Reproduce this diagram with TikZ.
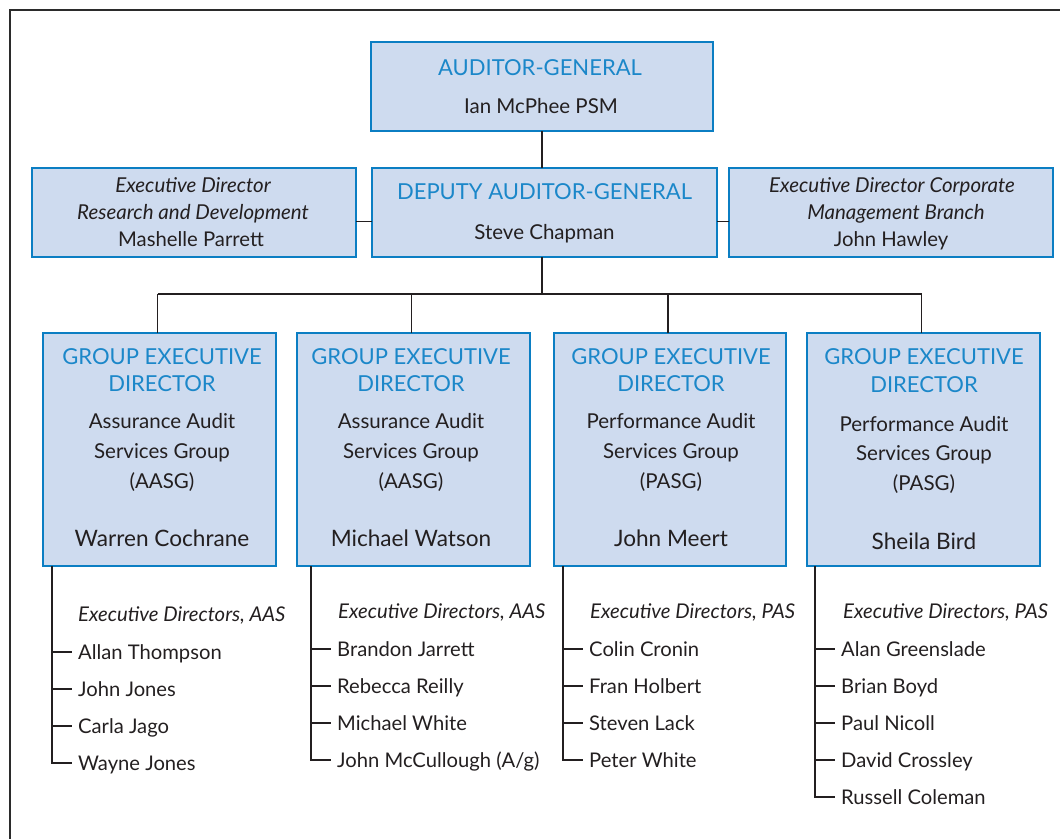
\documentclass[tikz,border=0pt]{standalone}
\usepackage{fontspec}
\setmainfont{Lato}
\usetikzlibrary{calc}
\definecolor{boxfill}{HTML}{CEDBEF}
\definecolor{boxline}{HTML}{0B7EC3}
\definecolor{titleblue}{HTML}{1B87C9}
\definecolor{ink}{HTML}{231F20}
\definecolor{framegray}{HTML}{2B2B2B}
\begin{document}
\begin{tikzpicture}[x=1pt,y=-1pt,
  box/.style={draw=boxline, fill=boxfill, line width=1.5pt, inner sep=0pt, outer sep=0pt},
  txt/.style={inner sep=0pt, text depth=0pt, text=ink},
  ttl/.style={txt, text=titleblue, font=\fontsize{22}{22}\selectfont, text height=15.8pt},
  body/.style={txt, font=\fontsize{20.5}{20.5}\selectfont, text height=14.7pt},
  nm/.style={txt, font=\fontsize{22.6}{22.6}\selectfont, text height=16.2pt},
  side/.style={txt, font=\fontsize{20.3}{20.3}\selectfont, text height=14.6pt},
  sidei/.style={txt, font=\fontsize{20.5}{20.5}\selectfont\itshape, text height=14.7pt},
  head/.style={txt, anchor=west, font=\fontsize{20.3}{20.3}\selectfont\itshape, text height=14.6pt},
  item/.style={txt, anchor=west, inner xsep=6pt, font=\fontsize{20.2}{20.2}\selectfont, text height=14.5pt},
  conn/.style={draw=ink, line width=1.1pt}
]
\clip (0,0) rectangle (1060,838);
\draw[framegray, line width=2pt] (10,900) -- (10,10) -- (1100,10);

% top boxes
\node[box, minimum width=342pt, minimum height=89pt] (ag) at (542,86.5) {};
\node[ttl] (agt) at (540,68) {AUDITOR-GENERAL};
\node[body] (agn) at (541,106) {Ian McPhee PSM};

\node[box, minimum width=345pt, minimum height=89pt] (dag) at (544.5,212.5) {};
\node[ttl] (dagt) at (544.5,192) {DEPUTY AUDITOR-GENERAL};
\node[body] (dagn) at (544.5,232) {Steve Chapman};

\node[box, minimum width=324pt, minimum height=89pt] (edl) at (194,212.5) {};
\node[sidei] (edl1) at (193,185) {Executive Director};
\node[sidei] (edl2) at (193,212) {Research and Development};
\node[side] (edl3) at (191,239) {Mashelle Parrett};

\node[box, minimum width=324pt, minimum height=89pt] (edr) at (891,212.5) {};
\node[sidei] (edr1) at (892,185) {Executive Director Corporate};
\node[sidei] (edr2) at (896,212) {Management Branch};
\node[side] (edr3) at (891,239) {John Hawley};

\draw[conn] (ag.south) -- (ag.south |- dag.north);
\draw[conn] ([yshift=-9pt]edl.east) -- ([yshift=-9pt]edl.east -| dag.west);
\draw[conn] ([yshift=-9pt]edr.west) -- ([yshift=-9pt]edr.west -| dag.east);

% group boxes
\node[box, minimum width=233pt, minimum height=233pt] (g1) at (159.5,449.5) {};
\node[box, minimum width=233pt, minimum height=233pt] (g2) at (413.5,449.5) {};
\node[box, minimum width=232pt, minimum height=233pt] (g3) at (670,449.5) {};
\node[box, minimum width=233pt, minimum height=233pt] (g4) at (923.5,449.5) {};

\coordinate (busy) at (0,294);
\coordinate (bus) at (ag.south |- busy);
\draw[conn] (ag.south |- dag.south) -- (bus);
\draw[conn] ([xshift=-2pt]g1.north |- bus) -- ([xshift=-2pt]g4.north |- bus);
\foreach \g in {g1,g2,g3,g4}
  \draw[conn] ([xshift=-2pt]\g.north |- bus) -- ([xshift=-2pt]\g.north);

\node[ttl] (g1a) at (162,357) {GROUP EXECUTIVE};
\node[ttl] (g1b) at (162,384) {DIRECTOR};
\node[body] (g1c) at (162,421) {Assurance Audit};
\node[body] (g1d) at (162,451) {Services Group};
\node[body] (g1e) at (162,481) {(AASG)};
\node[nm] (g1f) at (162,538) {Warren Cochrane};

\node[ttl] (g2a) at (411,357) {GROUP EXECUTIVE};
\node[ttl] (g2b) at (411,384) {DIRECTOR};
\node[body] (g2c) at (411,421) {Assurance Audit};
\node[body] (g2d) at (411,451) {Services Group};
\node[body] (g2e) at (411,481) {(AASG)};
\node[nm] (g2f) at (411,538) {Michael Watson};

\node[ttl] (g3a) at (671,357) {GROUP EXECUTIVE};
\node[ttl] (g3b) at (671,384) {DIRECTOR};
\node[body] (g3c) at (671,421) {Performance Audit};
\node[body] (g3d) at (671,451) {Services Group};
\node[body] (g3e) at (671,481) {(PASG)};
\node[nm] (g3f) at (671,538) {John Meert};

\node[ttl] (g4a) at (924,357) {GROUP EXECUTIVE};
\node[ttl] (g4b) at (924,385) {DIRECTOR};
\node[body] (g4c) at (924,424) {Performance Audit};
\node[body] (g4d) at (924,453) {Services Group};
\node[body] (g4e) at (924,483) {(PASG)};
\node[nm] (g4f) at (924,541) {Sheila Bird};

% lists
\node[head] (h1) at (78,614) {Executive Directors, AAS};
\node[head] (h2) at (338,611) {Executive Directors, AAS};
\node[head] (h3) at (590,611) {Executive Directors, PAS};
\node[head] (h4) at (843,611) {Executive Directors, PAS};

\coordinate (v1) at ([xshift=9pt]g1.south west);
\coordinate (v2) at ([xshift=14pt]g2.south west);
\coordinate (v3) at ([xshift=9pt]g3.south west);
\coordinate (v4) at ([xshift=8pt]g4.south west);

\foreach \t [count=\i] in {Allan Thompson, John Jones, Carla Jago, Wayne Jones}
  \node[item] (a\i) at (72,{615+37*\i}) {\t};
\foreach \t [count=\i] in {Brandon Jarrett, Rebecca Reilly, Michael White, John McCullough (A/g)}
  \node[item] (b\i) at (331,{612+37*\i}) {\t};
\foreach \t [count=\i] in {Colin Cronin, Fran Holbert, Steven Lack, Peter White}
  \node[item] (c\i) at (583,{612+37*\i}) {\t};
\foreach \t [count=\i] in {Alan Greenslade, Brian Boyd, Paul Nicoll, David Crossley, Russell Coleman}
  \node[item] (d\i) at (835,{612+37*\i}) {\t};

\draw[conn] (v1) |- (a4.west);
\foreach \i in {1,2,3} \draw[conn] (v1 |- a\i.west) -- (a\i.west);
\draw[conn] (v2) |- (b4.west);
\foreach \i in {1,2,3} \draw[conn] (v2 |- b\i.west) -- (b\i.west);
\draw[conn] (v3) |- (c4.west);
\foreach \i in {1,2,3} \draw[conn] (v3 |- c\i.west) -- (c\i.west);
\draw[conn] (v4) |- (d5.west);
\foreach \i in {1,2,3,4} \draw[conn] (v4 |- d\i.west) -- (d\i.west);
\end{tikzpicture}
\end{document}
